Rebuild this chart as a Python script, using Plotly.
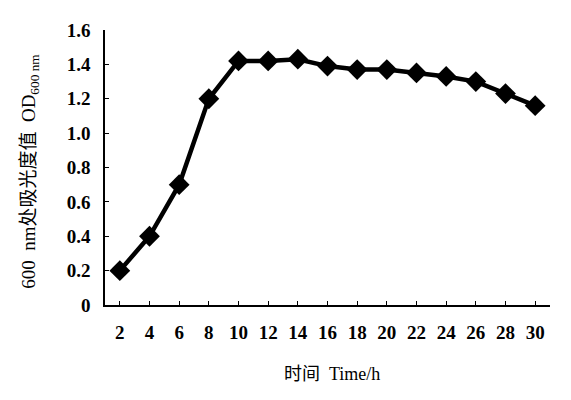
import plotly.graph_objects as go

time_h = [2, 4, 6, 8, 10, 12, 14, 16, 18, 20, 22, 24, 26, 28, 30]
od600 = [0.20, 0.40, 0.70, 1.20, 1.42, 1.42, 1.43, 1.39, 1.37, 1.37, 1.35, 1.33, 1.30, 1.23, 1.16]
y_tickvals = [0, 0.2, 0.4, 0.6, 0.8, 1.0, 1.2, 1.4, 1.6]
y_ticktext = ["0", "0.2", "0.4", "0.6", "0.8", "1.0", "1.2", "1.4", "1.6"]

serif = "Liberation Serif, Times New Roman, serif"
cjk = "Liberation Serif, Noto Sans CJK SC, serif"

fig = go.Figure()
fig.add_trace(go.Scatter(
    x=time_h, y=od600, mode="lines+markers",
    line=dict(color="black", width=4.5),
    marker=dict(symbol="diamond", size=16, color="black"),
    showlegend=False,
))

fig.update_layout(
    width=571, height=400,
    margin=dict(l=97, r=29, t=22, b=103),
    paper_bgcolor="white", plot_bgcolor="white",
    font=dict(family=serif, color="black", size=17),
    xaxis=dict(
        range=[1, 31], tickvals=time_h, ticktext=[str(t) for t in time_h],
        showline=True, linecolor="black", linewidth=1.5,
        ticks="inside", ticklen=4, tickcolor="black",
        showgrid=False, zeroline=False,
        tickfont=dict(family=serif, size=19, weight="bold"),
        ticklabelstandoff=9,
    ),
    yaxis=dict(
        range=[0, 1.6], tickvals=y_tickvals, ticktext=y_ticktext,
        showline=True, linecolor="black", linewidth=1.5,
        ticks="inside", ticklen=4, tickcolor="black",
        showgrid=False, zeroline=False,
        tickfont=dict(family=serif, size=19, weight="bold"),
        ticklabelstandoff=9,
    ),
    annotations=[
        dict(text="时间  Time/h", xref="paper", yref="paper", x=0.51, y=-0.251,
             showarrow=False, font=dict(family=cjk, size=18), xanchor="center", yanchor="middle"),
        dict(text="600  nm处吸光度值  OD<sub>600 nm</sub>", xref="paper", yref="paper",
             x=-0.169, y=0.487, textangle=-90, showarrow=False,
             font=dict(family=cjk, size=19), xanchor="center", yanchor="middle"),
    ],
)

fig.write_html("out.html")
